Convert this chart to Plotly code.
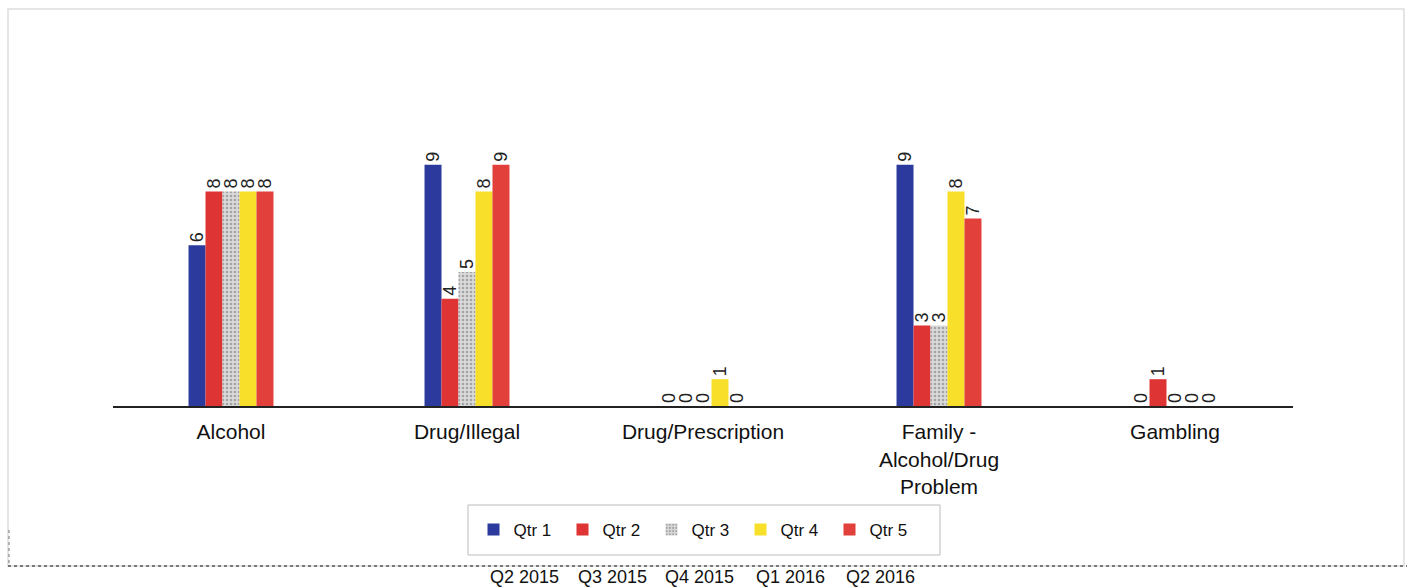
import plotly.graph_objects as go

categories = ["Alcohol", "Drug/Illegal", "Drug/Prescription",
              "Family -<br>Alcohol/Drug<br>Problem", "Gambling"]
series_names = ["Qtr 1", "Qtr 2", "Qtr 3", "Qtr 4", "Qtr 5"]
qtr1 = [6, 9, 0, 9, 0]
qtr2 = [8, 4, 0, 3, 1]
qtr3 = [8, 5, 0, 3, 0]
qtr4 = [8, 8, 1, 8, 0]
qtr5 = [8, 9, 0, 7, 0]
period_labels = ["Q2 2015", "Q3 2015", "Q4 2015", "Q1 2016", "Q2 2016"]

colors = ["#2B3A9C", "#DE3434", "#D6D6D6", "#F8DF2A", "#E1413A"]
values = [qtr1, qtr2, qtr3, qtr4, qtr5]

W, H = 1413, 588
L, R, T, B = 113, 120, 138, 182
FONT = "Arial, Liberation Sans, sans-serif"


def px_x(p):
    return (p - L) / (W - L - R)


def px_y(p):
    return (H - B - p) / (H - T - B)


fig = go.Figure()
for name, vals, col in zip(series_names, values, colors):
    marker = dict(color=col, line=dict(width=0))
    if name == "Qtr 3":
        marker["pattern"] = dict(shape=".", fgcolor="#6E6E6E", bgcolor="#DADADA",
                                 size=4, solidity=0.35)
    fig.add_trace(go.Bar(
        x=categories, y=vals, name=name, marker=marker,
        text=[str(v) for v in vals], textposition="outside", textangle=-90,
        constraintext="none", cliponaxis=False,
        textfont=dict(family=FONT, size=18, color="#222222"),
    ))

# period captions beneath the frame
period_x = [524, 612, 699, 790, 880]
for lab, px in zip(period_labels, period_x):
    fig.add_annotation(
        text=lab, xref="paper", yref="paper",
        x=px_x(px), y=px_y(577),
        showarrow=False, xanchor="center", yanchor="middle",
        font=dict(family=FONT, size=18, color="#111111"),
    )

# outer frame
fig.add_shape(type="rect", xref="paper", yref="paper",
              x0=px_x(8), x1=px_x(1404), y0=px_y(566), y1=px_y(9),
              line=dict(color="#DDDDDD", width=1.5), layer="below")
fig.add_shape(type="line", xref="paper", yref="paper",
              x0=px_x(8), x1=px_x(1407), y0=px_y(566), y1=px_y(566),
              line=dict(color="#555555", width=1.5, dash="dot"))
fig.add_shape(type="line", xref="paper", yref="paper",
              x0=px_x(9), x1=px_x(9), y0=px_y(530), y1=px_y(566),
              line=dict(color="#777777", width=1, dash="dot"))

# legend box
fig.add_shape(type="rect", xref="paper", yref="paper",
              x0=px_x(468), x1=px_x(940), y0=px_y(555), y1=px_y(505),
              line=dict(color="#BBBBBB", width=1))

fig.update_layout(
    width=W, height=H,
    margin=dict(l=L, r=R, t=T, b=B),
    barmode="group", bargap=0.64, bargroupgap=0,
    plot_bgcolor="white", paper_bgcolor="white",
    font=dict(family=FONT, color="#111111"),
    showlegend=True,
    legend=dict(
        orientation="h", x=px_x(696), xanchor="center",
        y=px_y(530), yanchor="middle",
        bgcolor="rgba(0,0,0,0)", borderwidth=0,
        font=dict(family=FONT, size=17, color="#111111"),
        entrywidth=44, entrywidthmode="pixels",
        itemsizing="constant",
    ),
    xaxis=dict(
        showline=True, linecolor="#222222", linewidth=2,
        ticks="", ticklabelstandoff=6,
        tickfont=dict(family=FONT, size=21, color="#111111"),
        showgrid=False, fixedrange=True,
    ),
    yaxis=dict(
        range=[0, 10], visible=False, showgrid=False, zeroline=False,
    ),
)

fig.write_html("out.html")
